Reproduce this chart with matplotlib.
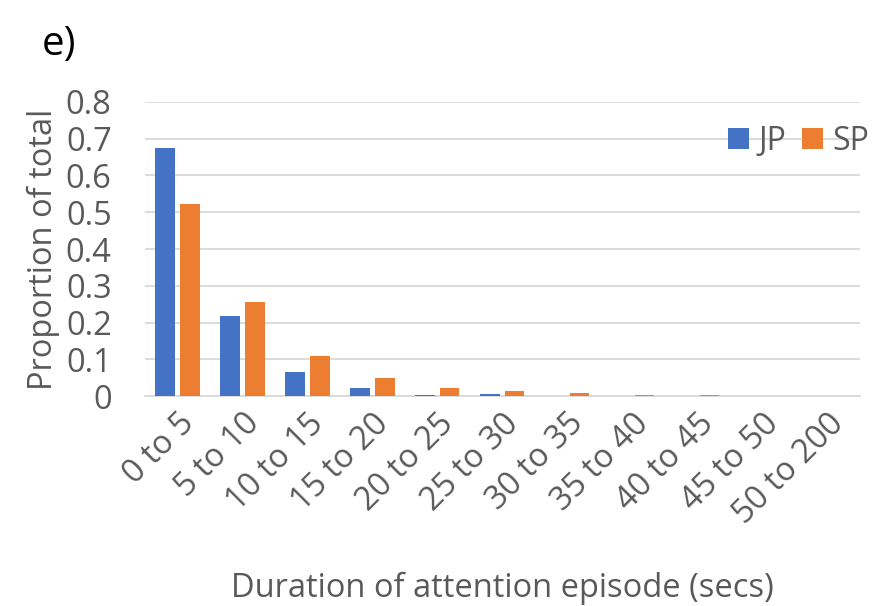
import numpy as np
import matplotlib
matplotlib.use("Agg")
import matplotlib.pyplot as plt

categories = ["0 to 5", "5 to 10", "10 to 15", "15 to 20", "20 to 25", "25 to 30",
              "30 to 35", "35 to 40", "40 to 45", "45 to 50", "50 to 200"]
jp = [0.675, 0.217, 0.064, 0.023, 0.004, 0.006, 0.0, 0.001, 0.001, 0.001, 0.001]
sp = [0.522, 0.255, 0.108, 0.049, 0.022, 0.013, 0.009, 0.004, 0.004, 0.001, 0.001]

plt.rcParams['font.family'] = ['Open Sans', 'DejaVu Sans']
grey = "#595959"

fig = plt.figure(figsize=(8.79, 6.06), dpi=100)
ax = fig.add_axes([0.165, 0.3465, 0.813, 0.4852])

x = np.arange(len(categories))
w = 0.3
ax.bar(x - 0.19, jp, w, color="#4472C4", label="JP", zorder=3)
ax.bar(x + 0.19, sp, w, color="#ED7D31", label="SP", zorder=3)

ax.set_xlim(-0.5, len(categories) - 0.5)
ax.set_ylim(0, 0.8)
ax.set_yticks(np.arange(0, 0.81, 0.1))
ax.set_yticklabels(["0"] + [f"{v:.1f}" for v in np.arange(0.1, 0.81, 0.1)])
ax.yaxis.grid(True, color="#d9d9d9", linewidth=1.3, zorder=0)
for s in ["top", "right", "left"]:
    ax.spines[s].set_visible(False)
ax.spines["bottom"].set_color("#d9d9d9")
ax.spines["bottom"].set_linewidth(1.3)
ax.tick_params(axis="both", length=0, labelsize=23.5, colors=grey)
ax.tick_params(axis="y", pad=24)
ax.tick_params(axis="x", pad=8)
ax.set_xticks(x)
ax.set_xticklabels(categories, rotation=45, ha="right", rotation_mode="anchor")

ax.set_ylabel("Proportion of total", fontsize=23.5, color=grey, labelpad=4)
ax.set_xlabel("Duration of attention episode (secs)", fontsize=23.5, color=grey, labelpad=30)

ax.legend(loc="upper right", bbox_to_anchor=(1.054, 1.02), frameon=False, ncol=2,
          fontsize=23, labelcolor=grey, handlelength=0.65, handleheight=0.65,
          handletextpad=0.3, columnspacing=0.5)

fig.text(0.047, 0.91, "e)", fontsize=29, color="black")

fig.savefig("out.png", dpi=100)
